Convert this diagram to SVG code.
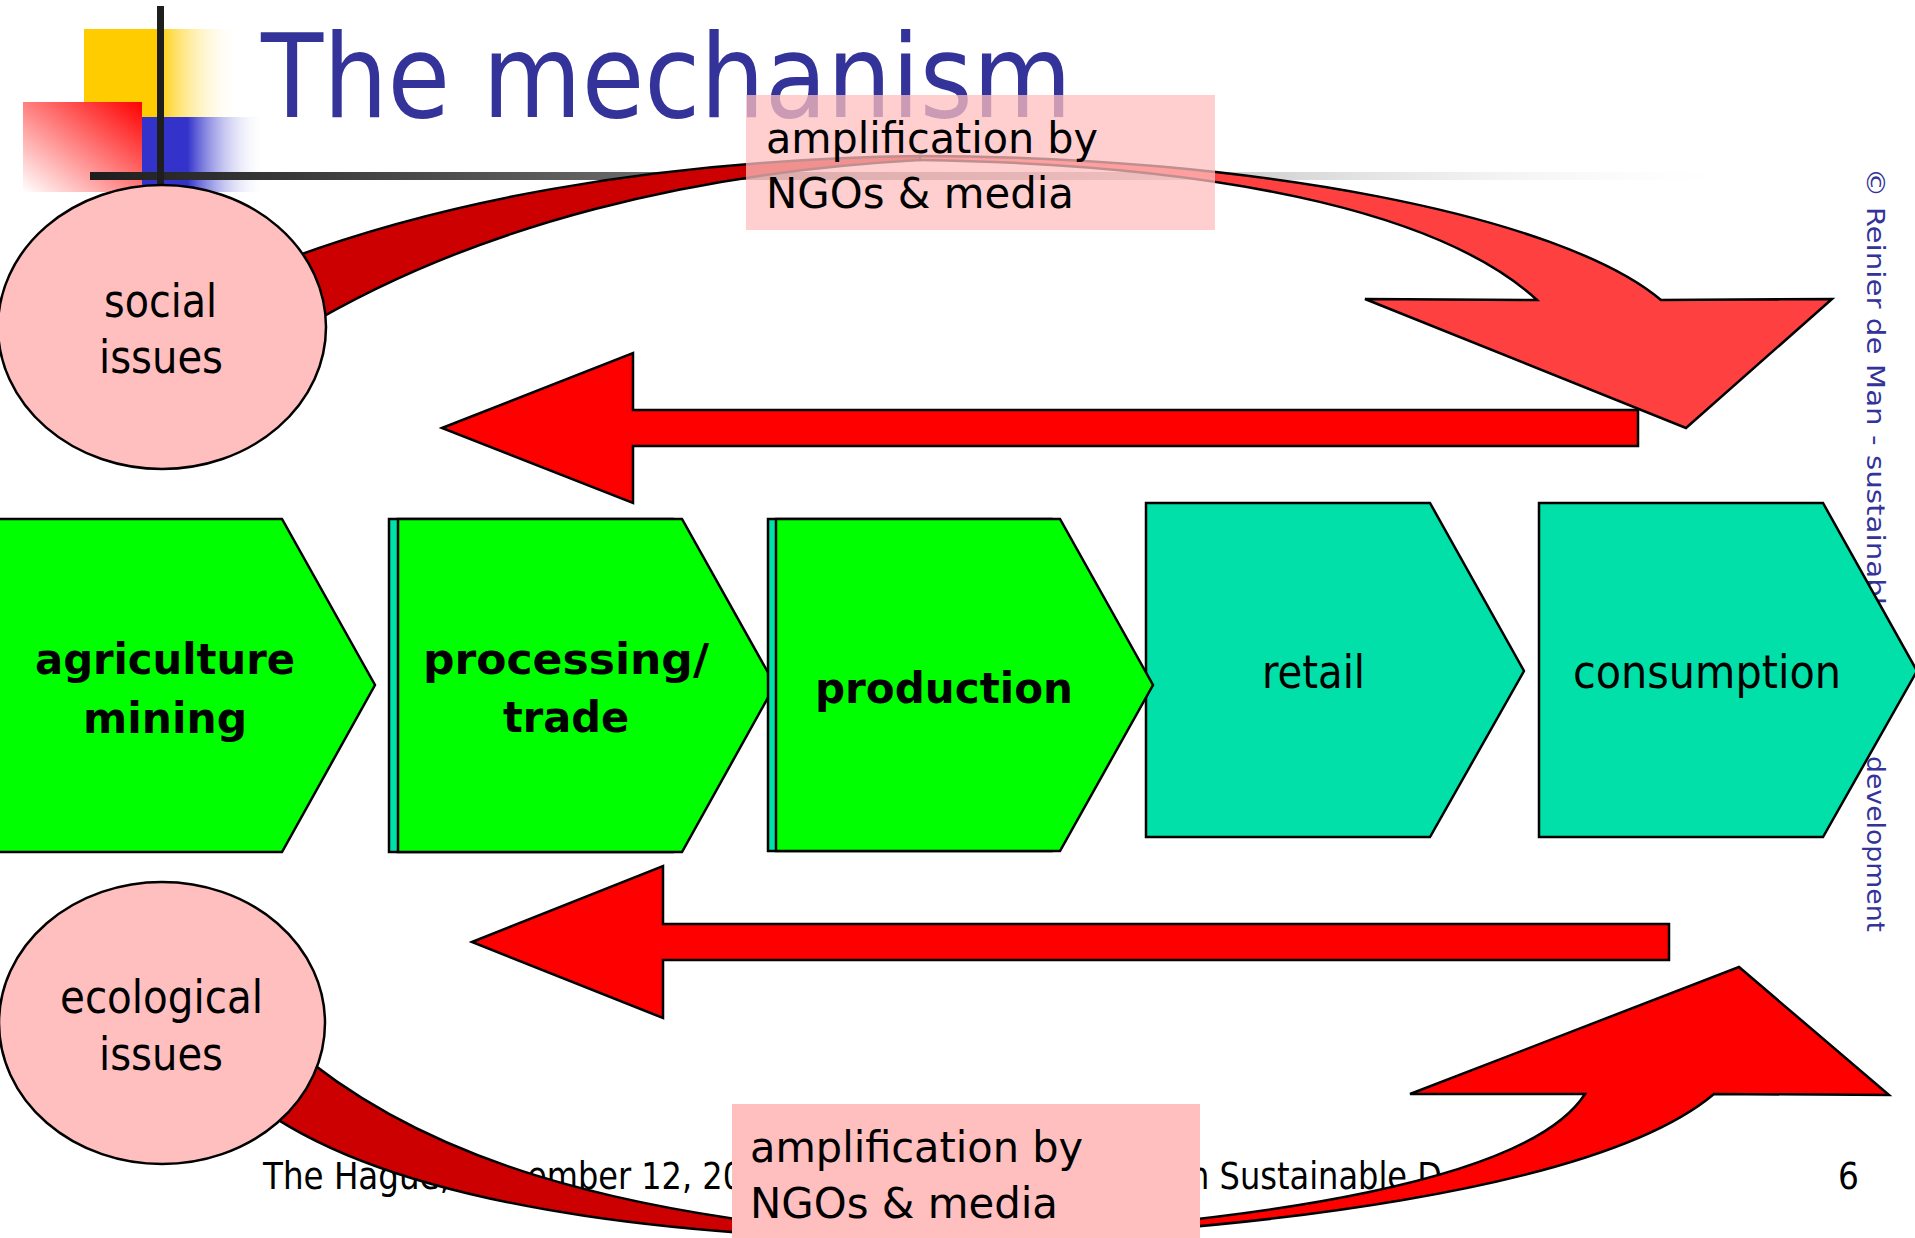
<svg xmlns="http://www.w3.org/2000/svg" width="1915" height="1238" viewBox="0 0 1915 1238">
<defs>
  <linearGradient id="gY" gradientUnits="userSpaceOnUse" x1="84" y1="0" x2="240" y2="0">
    <stop offset="0" stop-color="#FFCC00"/>
    <stop offset="0.47" stop-color="#FFCC00"/>
    <stop offset="1" stop-color="#FFFFFF" stop-opacity="0"/>
  </linearGradient>
  <linearGradient id="gR" x1="1" y1="0" x2="0" y2="1">
    <stop offset="0" stop-color="#FF0000"/>
    <stop offset="1" stop-color="#FFFFFF"/>
  </linearGradient>
  <linearGradient id="gB" gradientUnits="userSpaceOnUse" x1="142" y1="0" x2="265" y2="0">
    <stop offset="0" stop-color="#3333CC"/>
    <stop offset="0.37" stop-color="#3333CC"/>
    <stop offset="1" stop-color="#FFFFFF" stop-opacity="0"/>
  </linearGradient>
  <linearGradient id="gL" gradientUnits="userSpaceOnUse" x1="90" y1="0" x2="1760" y2="0">
    <stop offset="0" stop-color="#1E1E1E"/>
    <stop offset="0.55" stop-color="#9A9A9A"/>
    <stop offset="1" stop-color="#FFFFFF" stop-opacity="0"/>
  </linearGradient>
</defs>
<style>
  .f{font-family:'DejaVu Sans Condensed','DejaVu Sans',sans-serif}
  .lbl{font-size:46px;fill:#000}
  .amp{font-size:43px;fill:#000}
  .b{font-weight:bold;font-size:42px;fill:#000}
  .ft{font-size:36.5px;fill:#000}
  .copy{font-size:24px;fill:#333399}
  .cg{fill:#00FF00;stroke:#000;stroke-width:2.5}
  .ct{fill:#00E0A8;stroke:#000;stroke-width:2.5}
  .arrow{fill:#FF0000;stroke:#000;stroke-width:2.5}
  .dark{fill:#CC0000;stroke:#000;stroke-width:2.5}
  .light1{fill:#FF4040;stroke:#000;stroke-width:2.5}
  .issue{fill:#FFBFBF;stroke:#000;stroke-width:2.5}
  .box{fill:#FFBFBF}
</style>
<rect width="1915" height="1238" fill="#FFFFFF"/>

<g id="logo">
  <rect x="84" y="29" width="156" height="89" fill="url(#gY)"/>
  <rect x="23" y="102" width="119" height="90" fill="url(#gR)"/>
  <rect x="142" y="117" width="125" height="75" fill="url(#gB)"/>
  <rect x="90" y="172" width="1670" height="8" fill="url(#gL)"/>
  <rect x="157" y="6" width="7" height="180" fill="#1E1E1E"/>
</g>

<g id="title">
  <text class="f" x="261" y="117" font-size="116" fill="#333399" textLength="811" lengthAdjust="spacingAndGlyphs">The mechanism</text>
</g>

<g id="copyright">
  <text class="f copy" transform="translate(1867,168) rotate(90)" textLength="455" lengthAdjust="spacingAndGlyphs">© Reinier de Man - sustainable</text>
  <text class="f copy" transform="translate(1867,756) rotate(90)" textLength="176" lengthAdjust="spacingAndGlyphs">development</text>
</g>

<g id="footer">
  <text class="f ft" x="263" y="1189" textLength="187" lengthAdjust="spacingAndGlyphs">The Hague,</text>
  <text class="f ft" x="527" y="1189" textLength="216" lengthAdjust="spacingAndGlyphs">ember 12, 20</text>
  <text class="f ft" x="1189" y="1189" textLength="253" lengthAdjust="spacingAndGlyphs">n Sustainable D</text>
  <text class="f ft" x="1838" y="1189">6</text>
</g>

<g id="agriculture">
  <polygon class="cg" points="-5,519 282,519 375,685 282,852 -5,852"/>
  <text class="f b" x="35" y="674" textLength="260" lengthAdjust="spacingAndGlyphs">agriculture</text>
  <text class="f b" x="83" y="733" textLength="164" lengthAdjust="spacingAndGlyphs">mining</text>
</g>

<g id="processing">
  <polygon class="ct" points="389,519 673,519 766,685 673,852 389,852"/>
  <polygon class="cg" points="398,519 682,519 775,685 682,852 398,852"/>
  <text class="f b" x="423" y="674" textLength="286" lengthAdjust="spacingAndGlyphs">processing/</text>
  <text class="f b" x="503" y="732" textLength="126" lengthAdjust="spacingAndGlyphs">trade</text>
</g>

<g id="retail">
  <polygon class="ct" points="1146,503 1430,503 1524,671 1430,837 1146,837"/>
  <text class="f lbl" x="1262" y="688" font-size="44" textLength="103" lengthAdjust="spacingAndGlyphs">retail</text>
</g>

<g id="production">
  <polygon class="ct" points="768,519 1052,519 1145,685 1052,851 768,851"/>
  <polygon class="cg" points="776,519 1060,519 1153,685 1060,851 776,851"/>
  <text class="f b" x="815" y="703" textLength="258" lengthAdjust="spacingAndGlyphs">production</text>
</g>

<g id="consumption">
  <polygon class="ct" points="1539,503 1823,503 1917,671 1823,837 1539,837"/>
  <text class="f lbl" x="1573" y="688" font-size="44" textLength="268" lengthAdjust="spacingAndGlyphs">consumption</text>
</g>

<g id="connectors">
  <polygon class="arrow" points="442,428 633,353 633,410 1638,410 1638,446 633,446 633,503"/>
  <polygon class="arrow" points="472,942 663,866 663,924 1669,924 1669,960 663,960 663,1018"/>
  <path class="dark" d="M280,262 C430,205 640,160 920,156 L920,160 C700,172 480,222 300,330 Z"/>
  <path class="light1" d="M920,156 C1250,156 1560,215 1661,300 L1832,299 L1686,428 L1365,299 L1537,300 C1450,220 1250,165 920,160 Z"/>
  <path class="dark" d="M290,1045 C410,1150 600,1222 960,1240 C750,1240 405,1222 250,1100 Z"/>
  <path class="arrow" d="M960,1240 C1250,1232 1600,1190 1714,1094 L1889,1095 L1739,967 L1410,1094 L1585,1094 C1530,1180 1270,1222 960,1238 Z"/>
</g>

<g id="social">
  <ellipse class="issue" cx="162" cy="327" rx="164" ry="142"/>
  <text class="f lbl" x="104" y="317" textLength="113" lengthAdjust="spacingAndGlyphs">social</text>
  <text class="f lbl" x="99" y="373" textLength="124" lengthAdjust="spacingAndGlyphs">issues</text>
</g>

<g id="ecological">
  <ellipse class="issue" cx="162" cy="1023" rx="163" ry="141"/>
  <text class="f lbl" x="60" y="1013" font-size="45" textLength="203" lengthAdjust="spacingAndGlyphs">ecological</text>
  <text class="f lbl" x="99" y="1070" font-size="45" textLength="124" lengthAdjust="spacingAndGlyphs">issues</text>
</g>

<g id="amplification-top">
  <rect class="box" x="746" y="95" width="469" height="135" opacity="0.75"/>
  <text class="f amp" x="766" y="153" textLength="332" lengthAdjust="spacingAndGlyphs">amplification by</text>
  <text class="f amp" x="766" y="208" textLength="308" lengthAdjust="spacingAndGlyphs">NGOs &amp; media</text>
</g>

<g id="amplification-bottom">
  <rect class="box" x="732" y="1104" width="468" height="134"/>
  <text class="f amp" x="750" y="1162" textLength="333" lengthAdjust="spacingAndGlyphs">amplification by</text>
  <text class="f amp" x="750" y="1218" textLength="308" lengthAdjust="spacingAndGlyphs">NGOs &amp; media</text>
</g>
</svg>
